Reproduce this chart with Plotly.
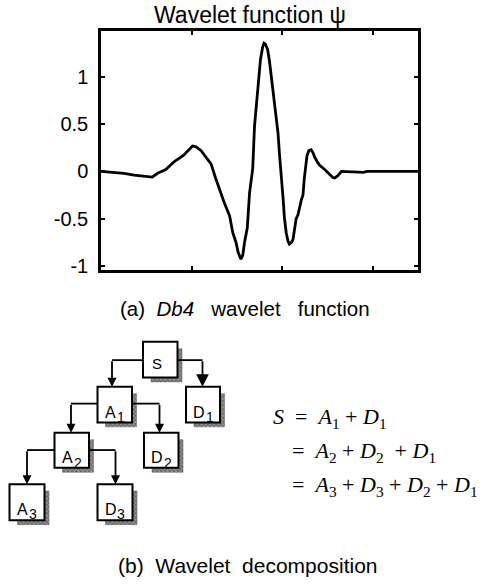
import plotly.graph_objects as go

W, H = 485, 585

# Daubechies-4 wavelet function psi, sampled over its support [0, 7]
t = [0.00, 0.29, 0.51, 0.73, 1.02, 1.13, 1.25, 1.43, 1.62, 1.82, 2.02, 2.10,
     2.21, 2.30, 2.43, 2.53, 2.61, 2.72, 2.84, 2.91, 2.98, 3.03, 3.09, 3.13,
     3.17, 3.23, 3.28, 3.35, 3.39, 3.46, 3.52, 3.57, 3.60, 3.63, 3.68, 3.72,
     3.76, 3.81, 3.87, 3.91, 3.94, 3.99, 4.02, 4.05, 4.09, 4.13, 4.16, 4.21,
     4.24, 4.31, 4.35, 4.42, 4.46, 4.49, 4.52, 4.55, 4.59, 4.64, 4.68, 4.72,
     4.79, 4.83, 4.94, 5.05, 5.12, 5.16, 5.23, 5.31, 5.72, 5.80, 5.87, 7.00]
psi = [0.00, -0.01, -0.02, -0.04, -0.06, -0.06, -0.02, 0.02, 0.105, 0.17, 0.27, 0.26,
       0.22, 0.16, 0.08, -0.07, -0.19, -0.33, -0.47, -0.65, -0.75, -0.86, -0.93, -0.89,
       -0.75, -0.60, -0.23, 0.03, 0.48, 0.82, 1.18, 1.32, 1.36, 1.35, 1.29, 1.17,
       1.00, 0.82, 0.58, 0.40, 0.19, -0.07, -0.28, -0.49, -0.65, -0.74, -0.77, -0.75,
       -0.72, -0.50, -0.46, -0.31, -0.25, -0.07, 0.035, 0.17, 0.22, 0.23, 0.20, 0.15,
       0.09, 0.065, 0.02, -0.035, -0.065, -0.07, -0.045, 0.00, -0.005, -0.01, 0.00, 0.00]

y_ticks = [-1, -0.5, 0, 0.5, 1]
y_tick_text = ["-1", "-0.5", "0", "0.5", "1"]
x_ticks = [2, 4, 6]

title_text = "Wavelet function \u03c8"
caption_a = "(a)\u00a0\u00a0<i>Db4</i>\u00a0\u00a0 wavelet\u00a0\u00a0 function"
caption_b = "(b)\u00a0 Wavelet\u00a0 decomposition"

# decomposition tree: node names, subscripts and parent links
node_names = ["S", "A", "D", "A", "D", "A", "D"]
node_subs = ["", "1", "1", "2", "2", "3", "3"]
node_parent = [None, 0, 0, 1, 1, 3, 3]

# reconstruction identities
eq_lines = [
    "<i>S</i>\u00a0 = \u00a0<i>A</i><sub>1</sub> + <i>D</i><sub>1</sub>",
    "= \u00a0<i>A</i><sub>2</sub> + <i>D</i><sub>2</sub>\u00a0 + <i>D</i><sub>1</sub>",
    "= \u00a0<i>A</i><sub>3</sub> + <i>D</i><sub>3</sub> + <i>D</i><sub>2</sub> + <i>D</i><sub>1</sub>",
]

# ---- layout geometry (pixels from top-left of the page) ----
box_px = [
    (143.0, 346.0, 177.5, 382.0),
    (97.5, 391.5, 132.0, 427.5),
    (186.0, 391.5, 220.0, 427.5),
    (54.5, 438.0, 89.0, 473.5),
    (144.0, 438.0, 178.5, 473.5),
    (9.5, 490.0, 44.5, 526.5),
    (97.5, 490.0, 132.5, 526.5),
]
# (y of horizontal run leaving the parent, x of the vertical drop, arrowhead scale)
link_px = [None, (364.5, 112.0, 1.0), (364.5, 202.5, 1.4), (408.5, 71.0, 1.0),
           (408.5, 159.5, 1.0), (455.5, 27.0, 1.0), (455.5, 115.5, 1.0)]
eq_pos = [(271.0, 423.0), (290.0, 457.0), (290.0, 492.0)]


def px(x):
    return x / W


def py(y):
    return 1 - y / H


fig = go.Figure()
fig.add_trace(go.Scatter(x=t, y=psi, mode="lines",
                         line=dict(color="black", width=2.8),
                         hoverinfo="skip", showlegend=False))

# halftone drop shadows behind the tree boxes, on a full-page pixel overlay
for (x0, y0, x1, y1) in box_px:
    sx0, sy0, sx1, sy1 = x0 + 8, y0 + 7, x1 + 4.5, y1 + 4.5
    fig.add_trace(go.Scatter(
        x=[sx0, sx1, sx1, sx0, sx0], y=[sy0, sy0, sy1, sy1, sy0],
        xaxis="x2", yaxis="y2", mode="lines", fill="toself",
        line=dict(color="#5a5a5a", width=0.5),
        fillcolor="#8a8a8a",
        fillpattern=dict(shape="x", size=3, solidity=0.5,
                         fgcolor="#2a2a2a", bgcolor="#9a9a9a", fillmode="overlay"),
        hoverinfo="skip", showlegend=False))

frame_l, frame_r, frame_t, frame_b = 101.0, 418.0, 31.7, 273.3

fig.update_layout(
    width=W, height=H,
    margin=dict(l=0, r=0, t=0, b=0),
    paper_bgcolor="white", plot_bgcolor="rgba(0,0,0,0)",
    showlegend=False,
    font=dict(family="Liberation Sans, Arial, sans-serif", color="black"),
    xaxis=dict(domain=[px(frame_l), px(frame_r)], range=[0, 7],
               tickvals=x_ticks, showticklabels=False,
               ticks="inside", ticklen=4, tickwidth=1.5, tickcolor="black",
               showline=True, linecolor="black", linewidth=2.5, mirror="ticks",
               showgrid=False, zeroline=False, fixedrange=True),
    yaxis=dict(domain=[py(frame_b), py(frame_t)], range=[-1.045, 1.485],
               tickvals=y_ticks, ticktext=y_tick_text,
               ticks="inside", ticklen=4, tickwidth=1.5, tickcolor="black",
               tickfont=dict(size=20, family="Liberation Sans, Arial, sans-serif"),
               ticklabelstandoff=6,
               showline=True, linecolor="black", linewidth=2.5, mirror="ticks",
               showgrid=False, zeroline=False, fixedrange=True),
    xaxis2=dict(domain=[0, 1], range=[0, W], visible=False, anchor="y2",
                fixedrange=True),
    yaxis2=dict(domain=[0, 1], range=[H, 0], visible=False, anchor="x2",
                fixedrange=True),
)

annotations = []
shapes = []

annotations.append(dict(text=title_text, x=px(250), y=py(15.5), xref="paper", yref="paper",
                        showarrow=False, xanchor="center", yanchor="middle",
                        font=dict(size=23)))
annotations.append(dict(text=caption_a, x=px(245), y=py(312), xref="paper", yref="paper",
                        showarrow=False, xanchor="center", yanchor="middle",
                        font=dict(size=20.5)))
annotations.append(dict(text=caption_b, x=px(248), y=py(572), xref="paper", yref="paper",
                        showarrow=False, xanchor="center", yanchor="middle",
                        font=dict(size=21)))

# tree boxes
for i, (x0, y0, x1, y1) in enumerate(box_px):
    shapes.append(dict(type="rect", xref="paper", yref="paper",
                       x0=px(x0), x1=px(x1), y0=py(y1), y1=py(y0),
                       fillcolor="white", line=dict(color="black", width=2), layer="above"))
    if node_subs[i]:
        annotations.append(dict(text=node_names[i], x=px(x0 + 13), y=py(y0 + 25.5),
                                xref="paper", yref="paper", showarrow=False,
                                xanchor="center", yanchor="middle", font=dict(size=16)))
        annotations.append(dict(text=node_subs[i], x=px(x0 + 23.5), y=py(y0 + 30.5),
                                xref="paper", yref="paper", showarrow=False,
                                xanchor="center", yanchor="middle", font=dict(size=14)))
    else:
        annotations.append(dict(text=node_names[i], x=px(x0 + 14), y=py(y0 + 22),
                                xref="paper", yref="paper", showarrow=False,
                                xanchor="center", yanchor="middle", font=dict(size=15)))

# connectors: horizontal run from the parent's side, then a drop with an arrowhead
for i, parent in enumerate(node_parent):
    if parent is None:
        continue
    hy, vx, head = link_px[i]
    p0, _, p1, _ = box_px[parent]
    side_x = p0 if vx < (p0 + p1) / 2 else p1
    shapes.append(dict(type="line", xref="paper", yref="paper",
                       x0=px(side_x), x1=px(vx), y0=py(hy), y1=py(hy),
                       line=dict(color="black", width=1.8), layer="above"))
    top = box_px[i][1]
    annotations.append(dict(text="", x=px(vx), y=py(top), xref="paper", yref="paper",
                            ax=0, ay=-(top - hy), showarrow=True,
                            arrowhead=2, arrowsize=head, arrowwidth=1.8,
                            arrowcolor="black", standoff=0))

for line, (ex, ey) in zip(eq_lines, eq_pos):
    annotations.append(dict(text=line, x=px(ex), y=py(ey), xref="paper", yref="paper",
                            showarrow=False, xanchor="left", yanchor="middle",
                            font=dict(size=22, family="Liberation Serif, Times New Roman, serif")))

fig.update_layout(annotations=annotations, shapes=shapes)
fig.write_html("out.html")
